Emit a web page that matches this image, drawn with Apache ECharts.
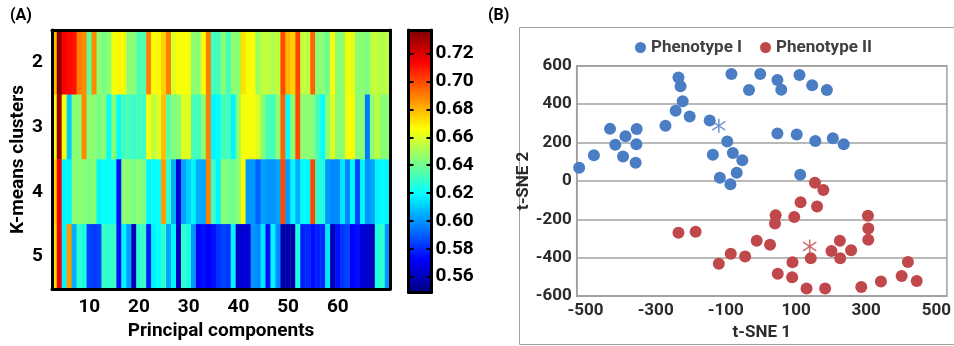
<!DOCTYPE html>
<html><head><meta charset="utf-8">
<script src="https://cdn.jsdelivr.net/npm/echarts@6/dist/echarts.min.js"></script>
<style>html,body{margin:0;padding:0;background:#fff}#c{width:954px;height:346px}</style>
</head><body><div id="c"></div>
<script>
// ---------- Panel A data ----------
const pcs = [3,4,5,6,7,8,9,10,11,12,13,14,15,16,17,18,19,20,21,22,23,24,25,26,27,28,29,30,31,32,33,34,35,36,37,38,39,40,41,42,43,44,45,46,47,48,49,50,51,52,53,54,55,56,57,58,59,60,61,62,63,64,65,66,67,68,69,70];
const clusters = ['2','3','4','5'];
const k2 = [0.678,0.735,0.715,0.712,0.71,0.69,0.688,0.637,0.688,0.645,
  0.642,0.645,0.665,0.668,0.665,0.645,0.645,0.633,0.635,0.69,
  0.665,0.668,0.675,0.69,0.66,0.665,0.665,0.665,0.645,0.645,
  0.665,0.69,0.632,0.632,0.645,0.632,0.645,0.645,0.672,0.665,
  0.665,0.648,0.655,0.655,0.652,0.655,0.70,0.68,0.675,0.70,
  0.655,0.655,0.695,0.645,0.645,0.64,0.665,0.645,0.645,0.665,
  0.662,0.645,0.645,0.642,0.655,0.655,0.652,0.655];
const k3 = [0.665,0.73,0.665,0.61,0.645,0.645,0.688,0.645,0.645,0.642,
  0.645,0.62,0.645,0.62,0.632,0.632,0.63,0.632,0.63,0.665,
  0.655,0.66,0.678,0.636,0.643,0.645,0.66,0.662,0.632,0.632,
  0.645,0.69,0.618,0.62,0.632,0.632,0.618,0.645,0.665,0.665,
  0.665,0.66,0.645,0.632,0.632,0.645,0.695,0.62,0.645,0.70,
  0.645,0.645,0.645,0.632,0.62,0.645,0.66,0.645,0.645,0.665,
  0.665,0.645,0.645,0.595,0.645,0.655,0.645,0.645];
const k4 = [0.675,0.715,0.618,0.618,0.645,0.645,0.645,0.642,0.645,0.618,
  0.62,0.62,0.622,0.575,0.645,0.645,0.642,0.645,0.642,0.618,
  0.62,0.62,0.685,0.628,0.605,0.565,0.603,0.61,0.618,0.605,
  0.603,0.69,0.63,0.618,0.645,0.642,0.64,0.645,0.665,0.6,
  0.6,0.59,0.602,0.6,0.6,0.603,0.70,0.6,0.618,0.605,
  0.62,0.618,0.70,0.628,0.625,0.6,0.598,0.598,0.615,0.598,
  0.618,0.585,0.618,0.6,0.603,0.618,0.62,0.618];
const k5 = [0.672,0.715,0.618,0.685,0.605,0.628,0.625,0.585,0.583,0.585,
  0.63,0.628,0.63,0.575,0.618,0.602,0.56,0.628,0.63,0.578,
  0.618,0.62,0.628,0.603,0.618,0.56,0.628,0.625,0.6,0.572,
  0.575,0.572,0.575,0.582,0.585,0.583,0.618,0.562,0.565,0.565,
  0.6,0.598,0.615,0.575,0.618,0.598,0.558,0.556,0.558,0.625,
  0.578,0.58,0.575,0.578,0.58,0.615,0.558,0.575,0.582,0.585,
  0.572,0.575,0.565,0.565,0.56,0.625,0.628,0.6];
const colorbarRange = [0.549, 0.737];
const colorbarTicks = [0.56,0.58,0.60,0.62,0.64,0.66,0.68,0.70,0.72];
const pcTickLabels = [10,20,30,40,50,60];

// ---------- Panel B data ----------
const phenotype1 = [[-518,68],[-476,133],[-430,271],[-415,188],[-386,233],[-393,127],[-354,270],[-355,191],[-357,94],[-272,287],[-243,365],[-223,415],[-235,539],[-229,493],[-203,336],[-146,315],[-137,136],[-117,17],[-96,205],[-80,145],[-84,557],[-87,-17],[-69,43],[-53,107],[-34,474],[-2,557],[59,608],[47,526],[58,475],[110,552],[146,498],[188,474],[47,247],[102,242],[155,208],[205,222],[236,191],[112,32]];
const phenotype2 = [[-235,-270],[-186,-265],[-120,-432],[-86,-379],[-45,-394],[-12,-312],[26,-333],[42,-179],[40,-222],[48,-484],[90,-424],[89,-502],[95,-188],[113,-111],[130,-560],[142,-403],[154,-10],[178,-48],[160,-133],[183,-560],[201,-365],[225,-312],[226,-403],[257,-361],[286,-553],[305,-181],[306,-248],[306,-307],[342,-524],[401,-495],[419,-422],[444,-521]];
const centroid1 = [[-120,287]];
const centroid2 = [[139,-342]];
const tsneXLabels = [-500,-300,-100,100,300,500];

// ---------- build ----------
const rows = [k2,k3,k4,k5];
const heat = [];
rows.forEach((r, yi) => r.forEach((v, xi) => heat.push([xi, yi, v])));
const jet = ['#00007F','#0000FF','#007FFF','#00FFFF','#7FFF7F','#FFFF00','#FF7F00','#FF0000','#7F0000'];
const F = 'Roboto, "Open Sans", "DejaVu Sans", sans-serif';
const tickOn = (i, v) => pcTickLabels.indexOf(Number(v)) >= 0;
const blk = {color:'#000', width:3};
const star = 'path://M9,0 L11,0 L11,20 L9,20 Z M0.8,4.6 L1.8,2.9 L19.2,15.4 L18.2,17.1 Z M18.2,2.9 L19.2,4.6 L1.8,17.1 L0.8,15.4 Z';
const blue = '#4A7DC4', red = '#C0474A', txt = '#2b2b2b';

const chart = echarts.init(document.getElementById('c'), null, {renderer:'canvas'});
chart.setOption({
  animation: false,
  textStyle: {fontFamily: F},
  grid: [
    {left:52, top:30, width:338, height:262},
    {left:408.5, top:30, width:23, height:262},
    {left:576.7, top:65.7, width:371.6, height:234.3, show:true, borderColor:'#A0A0A0', borderWidth:1.5}
  ],
  xAxis: [
    {type:'category', gridIndex:0, data:pcs, position:'bottom', z:10,
     axisLine:{lineStyle:blk}, splitLine:{show:false},
     axisTick:{inside:true, length:5, interval:tickOn, alignWithLabel:true, lineStyle:{color:'#000', width:2}},
     axisLabel:{interval:tickOn, margin:9, fontSize:19, fontWeight:'bold', color:'#000', fontFamily:F},
     name:'Principal components', nameLocation:'middle', nameGap:27,
     nameTextStyle:{fontSize:19, fontWeight:'bold', color:'#000', fontFamily:F}},
    {type:'category', gridIndex:0, data:pcs, position:'top', z:10,
     axisLine:{lineStyle:blk}, axisLabel:{show:false},
     axisTick:{inside:true, length:5, interval:tickOn, alignWithLabel:true, lineStyle:{color:'#000', width:2}}},
    {type:'value', gridIndex:1, min:0, max:1, position:'bottom', z:10,
     axisLine:{onZero:false, lineStyle:blk}, axisTick:{show:false}, axisLabel:{show:false}, splitLine:{show:false}},
    {type:'value', gridIndex:1, min:0, max:1, position:'top', z:10,
     axisLine:{onZero:false, lineStyle:blk}, axisTick:{show:false}, axisLabel:{show:false}, splitLine:{show:false}},
    {type:'value', gridIndex:2, min:-525, max:530, position:'bottom',
     axisLine:{show:true, onZero:false, lineStyle:{color:'#A0A0A0', width:1.5}}, axisTick:{show:false}, splitLine:{show:false},
     axisLabel:{customValues:tsneXLabels, margin:6, fontSize:17, fontWeight:'bold', color:txt, fontFamily:F},
     name:'t-SNE 1', nameLocation:'middle', nameGap:22,
     nameTextStyle:{fontSize:17, fontWeight:'bold', color:txt, fontFamily:F}}
  ],
  yAxis: [
    {type:'category', gridIndex:0, data:clusters, inverse:true, position:'left', z:10,
     axisLine:{lineStyle:blk}, splitLine:{show:false},
     axisTick:{inside:true, length:5, alignWithLabel:true, lineStyle:{color:'#000', width:2}},
     axisLabel:{margin:9, fontSize:19, fontWeight:'bold', color:'#000', fontFamily:F},
     name:'K-means clusters', nameLocation:'middle', nameGap:24,
     nameTextStyle:{fontSize:19, fontWeight:'bold', color:'#000', fontFamily:F}},
    {type:'category', gridIndex:0, data:clusters, inverse:true, position:'right', z:10,
     axisLine:{lineStyle:blk}, axisLabel:{show:false},
     axisTick:{inside:true, length:5, alignWithLabel:true, lineStyle:{color:'#000', width:2}}},
    {type:'value', gridIndex:1, min:colorbarRange[0], max:colorbarRange[1], position:'right', z:10,
     axisLine:{show:true, onZero:false, lineStyle:blk}, splitLine:{show:false},
     axisTick:{show:true, inside:true, length:5, customValues:colorbarTicks, lineStyle:{color:'#000', width:2}},
     axisLabel:{customValues:colorbarTicks, formatter:v => v.toFixed(2), margin:4, fontSize:19, fontWeight:'bold', color:'#000', fontFamily:F}},
    {type:'value', gridIndex:1, min:colorbarRange[0], max:colorbarRange[1], position:'left', z:10,
     axisLine:{show:true, onZero:false, lineStyle:blk}, splitLine:{show:false}, axisLabel:{show:false},
     axisTick:{show:true, inside:true, length:5, customValues:colorbarTicks, lineStyle:{color:'#000', width:2}}},
    {type:'value', gridIndex:2, min:-600, max:600, interval:200, position:'left',
     axisLine:{show:true, onZero:false, lineStyle:{color:'#A0A0A0', width:1.5}}, axisTick:{show:false},
     splitLine:{show:true, lineStyle:{color:'#A0A0A0', width:1.5}},
     axisLabel:{margin:5, fontSize:17, fontWeight:'bold', color:txt, fontFamily:F},
     name:'t-SNE 2', nameLocation:'middle', nameGap:33,
     nameTextStyle:{fontSize:17, fontWeight:'bold', color:txt, fontFamily:F}}
  ],
  visualMap: {type:'continuous', show:false, seriesIndex:0, min:colorbarRange[0], max:colorbarRange[1],
    inRange:{color:jet}},
  legend: {data:['Phenotype I','Phenotype II'], left:630, top:34, icon:'circle', itemWidth:11, itemHeight:11, itemGap:18,
    textStyle:{fontSize:17, fontWeight:'bold', color:'#404040', fontFamily:F}},
  graphic: [
    {type:'text', left:10, top:8, style:{text:'(A)', font:'bold 16px '+F, fill:'#000'}},
    {type:'text', left:488, top:8, style:{text:'(B)', font:'bold 16px '+F, fill:'#000'}},
    {type:'rect', left:517, top:25, shape:{width:460, height:317}, style:{fill:null, stroke:'#A0A0A0', lineWidth:1}, z:-1}
  ],
  series: [
    {type:'heatmap', xAxisIndex:0, yAxisIndex:0, data:heat, itemStyle:{borderWidth:0}, emphasis:{disabled:true}},
    {type:'custom', xAxisIndex:2, yAxisIndex:2, data:[[0, colorbarRange[0], 1, colorbarRange[1]]],
     renderItem:(params, api) => {
       const p1 = api.coord([api.value(0), api.value(3)]);
       const p2 = api.coord([api.value(2), api.value(1)]);
       return {type:'rect', shape:{x:p1[0], y:p1[1], width:p2[0]-p1[0], height:p2[1]-p1[1]},
         style:{fill:new echarts.graphic.LinearGradient(0,1,0,0, jet.map((c,i)=>({offset:i/(jet.length-1), color:c})))}};
     }},
    {type:'scatter', name:'Phenotype I', xAxisIndex:4, yAxisIndex:4, data:phenotype1, symbol:'circle', symbolSize:12, itemStyle:{color:blue, opacity:1}},
    {type:'scatter', name:'Phenotype II', xAxisIndex:4, yAxisIndex:4, data:phenotype2, symbol:'circle', symbolSize:12, itemStyle:{color:red, opacity:1}},
    {type:'scatter', name:'Centroid I', xAxisIndex:4, yAxisIndex:4, data:centroid1, symbol:star, symbolSize:14, itemStyle:{color:blue}, z:5},
    {type:'scatter', name:'Centroid II', xAxisIndex:4, yAxisIndex:4, data:centroid2, symbol:star, symbolSize:14, itemStyle:{color:red}, z:5}
  ]
});
</script></body></html>
